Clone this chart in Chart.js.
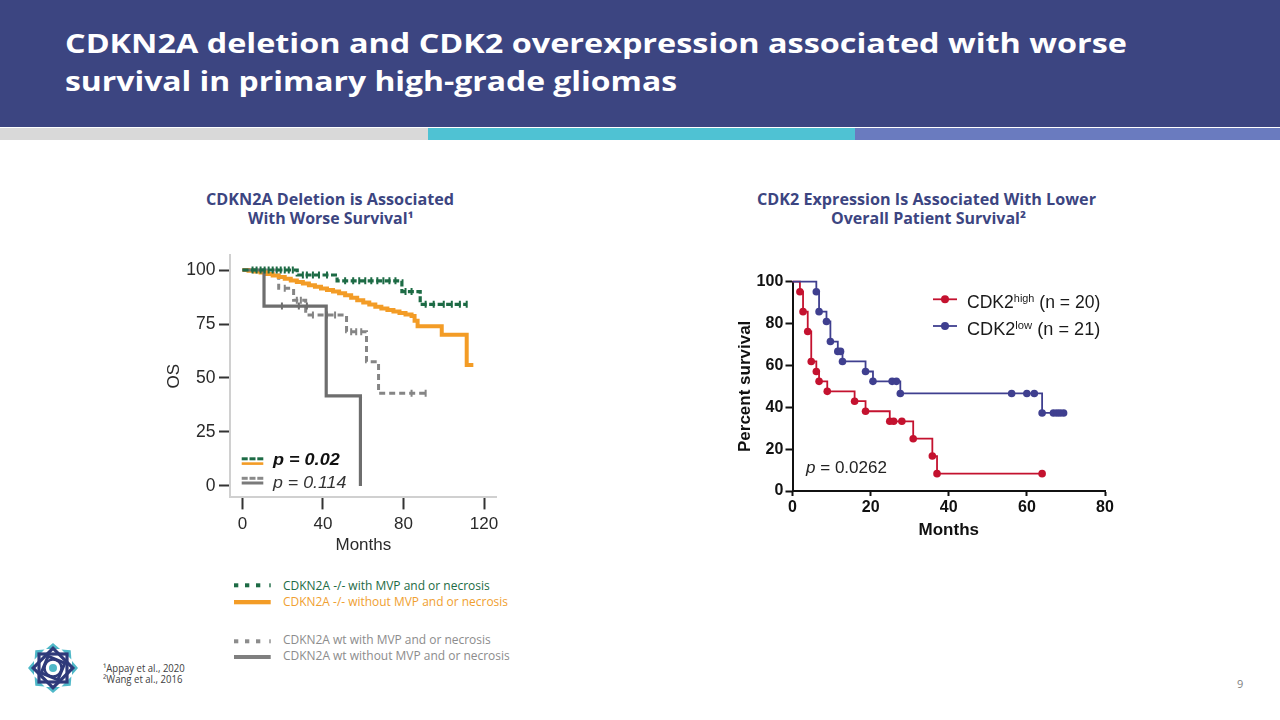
<!DOCTYPE html>
<html><head><meta charset="utf-8">
<script src="https://cdn.jsdelivr.net/npm/chart.js@4.4.1/dist/chart.umd.min.js"></script>
<style>
html,body{margin:0;padding:0;background:#fff;}
#slide{position:relative;width:1280px;height:720px;overflow:hidden;background:#fff;font-family:'Open Sans',sans-serif;}
.t{position:absolute;white-space:nowrap;line-height:1;transform-origin:0 0;}
.lib{font-family:'Liberation Sans',Arial,sans-serif;}
sup{font-size:62%;line-height:0;vertical-align:0.55em;}
canvas{position:absolute;}
svg{position:absolute;left:0;top:0;}
</style></head><body>
<div id="slide">
  <div style="position:absolute;left:0;top:0;width:1280px;height:127px;background:#3c4581"></div>
  <div style="position:absolute;left:0;top:128px;width:428px;height:12px;background:#d9d9d9"></div>
  <div style="position:absolute;left:428px;top:128px;width:427px;height:12px;background:#4fc2d3"></div>
  <div style="position:absolute;left:855px;top:128px;width:425px;height:12px;background:#6a7bbf"></div>

  <div class="t" data-x="65" data-b="53.5" data-fs="26" data-w="1062" style="color:#fff;font-weight:700">CDKN2A deletion and CDK2 overexpression associated with worse</div>
  <div class="t" data-x="65" data-b="91" data-fs="26" data-w="612" style="color:#fff;font-weight:700">survival in primary high-grade gliomas</div>

  <div class="t" data-x="205.6" data-b="205.5" data-fs="15.5" data-w="248" style="color:#3c4581;font-weight:700">CDKN2A Deletion is Associated</div>
  <div class="t" data-x="247.5" data-b="225" data-fs="15.5" data-w="165.6" style="color:#3c4581;font-weight:700">With Worse Survival¹</div>
  <div class="t" data-x="757" data-b="205.5" data-fs="15.5" data-w="339" style="color:#3c4581;font-weight:700">CDK2 Expression Is Associated With Lower</div>
  <div class="t" data-x="830.6" data-b="225" data-fs="15.5" data-w="195" style="color:#3c4581;font-weight:700">Overall Patient Survival²</div>

  <div class="t" data-x="283.3" data-b="590.7" data-fs="12.5" data-w="206.7" style="color:#1d6b45">CDKN2A -/- with MVP and or necrosis</div>
  <div class="t" data-x="283.3" data-b="606.7" data-fs="12.5" data-w="225" style="color:#f0a030">CDKN2A -/- without MVP and or necrosis</div>
  <div class="t" data-x="283.3" data-b="645" data-fs="12.5" data-w="207.7" style="color:#8c8c8c">CDKN2A wt with MVP and or necrosis</div>
  <div class="t" data-x="283.3" data-b="660.7" data-fs="12.5" data-w="226.7" style="color:#8c8c8c">CDKN2A wt without MVP and or necrosis</div>

  <div class="t" data-x="103.3" data-b="672.7" data-fs="10.5" data-w="81.7" style="color:#404040">¹Appay et al., 2020</div>
  <div class="t" data-x="103.3" data-b="683.3" data-fs="10.5" data-w="79.4" style="color:#404040">²Wang et al., 2016</div>
  <div class="t" data-x="1237" data-b="688" data-fs="11" style="color:#7f7f7f">9</div>

  <canvas id="leftChart" width="370" height="320" style="left:150px;top:240px;width:370px;height:320px"></canvas>
  <canvas id="rightChart" width="400" height="283" style="left:720px;top:262px;width:400px;height:283px"></canvas>

  <div class="t lib" data-f="lib" data-x="273.3" data-b="464.9" data-fs="16.5" data-w="66.7" style="color:#111;font-weight:700;font-style:italic">p = 0.02</div>
  <div class="t lib" data-f="lib" data-x="273.3" data-b="488.4" data-fs="16.5" data-w="73.4" style="color:#333;font-style:italic">p = 0.114</div>

  <div class="t lib" data-f="lib" data-x="966.7" data-b="308.3" data-fs="18" data-w="133.3" style="color:#1a1a1a">CDK2<sup>high</sup> (n = 20)</div>
  <div class="t lib" data-f="lib" data-x="966.7" data-b="335" data-fs="18" data-w="133.3" style="color:#1a1a1a">CDK2<sup>low</sup> (n = 21)</div>
  <div class="t lib" data-f="lib" data-x="806" data-b="473" data-fs="17" data-w="81" style="color:#222"><i>p</i> = 0.0262</div>

  <svg width="1280" height="720">
    <!-- bottom legend swatches -->
    <g fill="#1d6b45"><rect x="234" y="583.3" width="4.3" height="4"/><rect x="245" y="583.3" width="4.3" height="4"/><rect x="256" y="583.3" width="4.3" height="4"/><rect x="269.3" y="583.3" width="1.4" height="4"/></g>
    <rect x="234" y="600" width="36.7" height="4.3" fill="#f39c26"/>
    <g fill="#8c8c8c"><rect x="234" y="639.3" width="4.3" height="4"/><rect x="245" y="639.3" width="4.3" height="4"/><rect x="256" y="639.3" width="4.3" height="4"/><rect x="269.3" y="639.3" width="1.4" height="4"/></g>
    <rect x="234" y="655" width="36.7" height="4" fill="#7f7f7f"/>
    <!-- in-plot legend swatches (left chart) -->
    <g fill="#1d6b45"><rect x="241.7" y="457.3" width="6" height="3"/><rect x="249.5" y="457.3" width="6" height="3"/><rect x="257.3" y="457.3" width="6" height="3"/></g>
    <rect x="241.7" y="462.3" width="21.6" height="2.6" fill="#f39c26"/>
    <g fill="#8a8a8a"><rect x="241.7" y="476.8" width="6" height="3"/><rect x="249.5" y="476.8" width="6" height="3"/><rect x="257.3" y="476.8" width="6" height="3"/></g>
    <rect x="241.7" y="481.5" width="21.6" height="3" fill="#7a7a7a"/>
    <!-- right legend swatches -->
    <line x1="933" y1="299.3" x2="957" y2="299.3" stroke="#c4122f" stroke-width="1.8"/><circle cx="945" cy="299.3" r="4" fill="#c4122f"/>
    <line x1="933" y1="326" x2="957" y2="326" stroke="#3f3f8f" stroke-width="1.8"/><circle cx="945" cy="326" r="4" fill="#3f3f8f"/>
    <!-- logo -->
    <g transform="translate(53,668)">
      <g fill="#4fb8c8">
        <path d="M0,-25 L7,-19 L-7,-19 Z"/><path d="M0,-25 L7,-19 L-7,-19 Z" transform="rotate(45)"/>
        <path d="M0,-25 L7,-19 L-7,-19 Z" transform="rotate(90)"/><path d="M0,-25 L7,-19 L-7,-19 Z" transform="rotate(135)"/>
        <path d="M0,-25 L7,-19 L-7,-19 Z" transform="rotate(180)"/><path d="M0,-25 L7,-19 L-7,-19 Z" transform="rotate(225)"/>
        <path d="M0,-25 L7,-19 L-7,-19 Z" transform="rotate(270)"/><path d="M0,-25 L7,-19 L-7,-19 Z" transform="rotate(315)"/>
        <circle r="4"/>
      </g>
      <g fill="none" stroke="#2f3a7a" stroke-width="3.2">
        <rect x="-14" y="-14" width="28" height="28"/>
        <rect x="-14" y="-14" width="28" height="28" transform="rotate(45)"/>
        <rect x="-9" y="-9" width="18" height="18" transform="rotate(22.5)"/>
        <circle r="8.5" stroke-width="2.5"/>
      </g>
    </g>
  </svg>
</div>
<script>
// ---------- Left chart (Appay et al.) ----------
const leftMonthTicks = [0, 40, 80, 120];
const leftOsTicks = [0, 25, 50, 75, 100];

// CDKN2A -/- with MVP and/or necrosis (green dashed)
const nullMvpT = [0, 27.2, 47, 79.2, 88.3, 111.4];
const nullMvpS = [100, 97.7, 95.0, 90.0, 84.1, 84.1];
const nullMvpCensT = [5, 7, 9, 11, 13, 15, 17, 19, 21, 23, 25, 30, 32, 35, 38, 42, 51, 55, 58, 61, 64, 67, 70, 73, 76, 81, 84, 91, 95, 100, 104, 108, 111.4];
const nullMvpCensS = [100, 100, 100, 100, 100, 100, 100, 100, 100, 100, 100, 97.7, 97.7, 97.7, 97.7, 97.7, 95.0, 95.0, 95.0, 95.0, 95.0, 95.0, 95.0, 95.0, 95.0, 90.0, 90.0, 84.1, 84.1, 84.1, 84.1, 84.1, 84.1];

// CDKN2A -/- without MVP and/or necrosis (orange solid)
const nullNoT = [0, 3, 6, 9, 12, 15, 18, 21, 24, 27, 30, 33, 36, 39, 42, 45, 48, 51, 54, 57, 60, 63, 66, 69, 72, 75, 78, 81, 84, 85.5, 87, 99, 111.4, 114.7];
const nullNoS = [100, 99.7, 99.3, 98.8, 98.2, 97.5, 96.8, 96.0, 95.2, 94.4, 93.7, 92.9, 92.2, 91.4, 90.7, 90.0, 89.2, 88.3, 87.2, 86.0, 84.9, 84.0, 83.0, 82.2, 81.5, 80.8, 80.1, 79.4, 78.7, 76.5, 74.0, 70.0, 56.0, 56.0];

// CDKN2A wt with MVP and/or necrosis (gray dashed)
const wtMvpT = [0, 18, 25.4, 31.4, 51.7, 61.6, 67.6, 91];
const wtMvpS = [100, 91.5, 86.0, 79.2, 71.4, 57.5, 42.9, 42.9];
const wtMvpCensT = [21, 27, 29, 35, 42, 46, 54, 56.5, 59, 84, 91];
const wtMvpCensS = [91.5, 86.0, 86.0, 79.2, 79.2, 79.2, 71.4, 71.4, 71.4, 42.9, 42.9];

// CDKN2A wt without MVP and/or necrosis (gray solid)
const wtNoT = [0, 10.7, 41.6, 58.6];
const wtNoS = [100, 83.3, 41.7, 0];
const wtNoCensT = [19.6, 28, 32];
const wtNoCensS = [83.3, 83.3, 83.3];

// ---------- Right chart (Wang et al.) ----------
const rightMonthTicksStep = 20;
const rightSurvTicksStep = 20;
const highT = [0, 1.9, 2.7, 3.9, 4.8, 6.1, 6.8, 8.9, 15.9, 18.7, 24.9, 25.9, 28.0, 30.9, 35.8, 37.0, 63.9];
const highS = [100, 95.2, 85.7, 76.2, 61.9, 57.1, 52.4, 47.6, 42.9, 38.1, 33.3, 33.3, 33.3, 25.0, 16.7, 8.3, 8.3];
const lowT = [0, 6.1, 6.8, 8.7, 9.7, 11.6, 12.3, 12.8, 18.7, 20.6, 25.5, 26.6, 27.6, 56.1, 60.0, 61.9, 63.9, 66.8, 67.7, 68.5, 69.4];
const lowS = [100, 95.2, 85.7, 81.0, 71.4, 66.7, 66.7, 61.9, 57.1, 52.4, 52.4, 52.4, 46.6, 46.6, 46.6, 46.6, 37.3, 37.3, 37.3, 37.3, 37.3];

const toXY = (ts, ss) => ts.map((t, i) => ({x: t, y: ss[i]}));

// ---------- text placement ----------
const K = {open: 0.888, lib: 0.8465};
document.querySelectorAll('.t').forEach(el => {
  const fs = +el.dataset.fs, k = K[el.dataset.f || 'open'];
  el.style.fontSize = fs + 'px';
  el.style.left = el.dataset.x + 'px';
  el.style.top = (el.dataset.b - k * fs) + 'px';
});
function fit() {
  document.querySelectorAll('.t').forEach(el => {
    if (!el.dataset.w) return;
    el.style.transform = 'none';
    const w = el.getBoundingClientRect().width;
    if (w > 0) el.style.transform = 'scaleX(' + (el.dataset.w / w) + ')';
  });
}
fit();
if (document.fonts && document.fonts.ready) document.fonts.ready.then(fit);

Chart.defaults.font.family = "'Liberation Sans', Arial, sans-serif";

const censor = (t, s, color) => ({
  data: toXY(t, s), showLine: false, pointStyle: 'line', rotation: 90,
  pointRadius: 3.5, pointBorderWidth: 2, borderColor: color, pointBorderColor: color, backgroundColor: color
});

new Chart(document.getElementById('leftChart'), {
  type: 'line',
  data: {
    datasets: [
      censor(nullMvpCensT, nullMvpCensS, '#1d6b45'),
      {data: toXY(nullMvpT, nullMvpS), stepped: true, borderColor: '#1d6b45', borderWidth: 3.2, borderDash: [6, 2.5], pointRadius: 0},
      censor(wtNoCensT, wtNoCensS, '#6e6e6e'),
      {data: toXY(wtNoT, wtNoS), stepped: true, borderColor: '#6e6e6e', borderWidth: 3.2, pointRadius: 0},
      {data: toXY(nullNoT, nullNoS), stepped: true, borderColor: '#f39c26', borderWidth: 4, pointRadius: 0},
      censor(wtMvpCensT, wtMvpCensS, '#858585'),
      {data: toXY(wtMvpT, wtMvpS), stepped: true, borderColor: '#858585', borderWidth: 3, borderDash: [6, 4], pointRadius: 0}
    ]
  },
  options: {
    responsive: false, animation: false, devicePixelRatio: 1,
    layout: {padding: {left: 0, right: 23.3, top: 14.9, bottom: 0}},
    plugins: {legend: {display: false}, tooltip: {enabled: false}},
    scales: {
      x: {
        type: 'linear', min: -6.2, max: 126.3,
        afterBuildTicks: s => { s.ticks = leftMonthTicks.map(v => ({value: v})); },
        afterFit: s => { s.height = 62.6; },
        grid: {drawOnChartArea: false, drawTicks: true, tickLength: 12, tickWidth: 2, tickColor: '#333'},
        border: {color: '#d0d0d0', width: 2},
        ticks: {color: '#2a2a2a', font: {size: 17}, padding: 5.1, maxRotation: 0, autoSkip: false},
        title: {display: true, text: 'Months', color: '#2a2a2a', font: {size: 17}, padding: {top: 0, bottom: 4.3}}
      },
      y: {
        type: 'linear', min: -5.3, max: 107,
        afterBuildTicks: s => { s.ticks = leftOsTicks.map(v => ({value: v})); },
        afterFit: s => { s.width = 80; },
        grid: {drawOnChartArea: false, drawTicks: true, tickLength: 11, tickWidth: 2, tickColor: '#333'},
        border: {color: '#d0d0d0', width: 2},
        ticks: {color: '#2a2a2a', font: {size: 17.5}, padding: 3.5, autoSkip: false},
        title: {display: true, text: 'OS', color: '#2a2a2a', font: {size: 17}, padding: {top: 13.8, bottom: 0}}
      }
    }
  }
});

const kmPoints = (ts) => ts.map((t, i) => i === 0 ? 0 : 3.8);

new Chart(document.getElementById('rightChart'), {
  type: 'line',
  data: {
    datasets: [
      {data: toXY(lowT, lowS), stepped: true, borderColor: '#3f3f8f', backgroundColor: '#3f3f8f', borderWidth: 1.8,
       pointRadius: kmPoints(lowT), pointBackgroundColor: '#3f3f8f', pointBorderWidth: 0, clip: false},
      {data: toXY(highT, highS), stepped: true, borderColor: '#c4122f', backgroundColor: '#c4122f', borderWidth: 1.8,
       pointRadius: kmPoints(highT), pointBackgroundColor: '#c4122f', pointBorderWidth: 0, clip: false}
    ]
  },
  options: {
    responsive: false, animation: false, devicePixelRatio: 1,
    layout: {padding: {left: 0, right: 15, top: 19.7, bottom: 0}},
    plugins: {legend: {display: false}, tooltip: {enabled: false}},
    scales: {
      x: {
        type: 'linear', min: 0, max: 80,
        afterFit: s => { s.height = 54; },
        grid: {drawOnChartArea: false, drawTicks: true, tickLength: 5, tickWidth: 2, tickColor: '#111'},
        border: {color: '#111', width: 2},
        ticks: {stepSize: rightMonthTicksStep, color: '#111', font: {size: 16, weight: 'bold'}, padding: 1.9, maxRotation: 0},
        title: {display: true, text: 'Months', color: '#111', font: {size: 17, weight: 'bold'}, padding: {top: 0, bottom: 4.8}}
      },
      y: {
        type: 'linear', min: 0, max: 100,
        afterFit: s => { s.width = 72.5; },
        grid: {drawOnChartArea: false, drawTicks: true, tickLength: 7, tickWidth: 2, tickColor: '#111'},
        border: {color: '#111', width: 2},
        ticks: {stepSize: rightSurvTicksStep, color: '#111', font: {size: 16, weight: 'bold'}, padding: 2.2},
        title: {display: true, text: 'Percent survival', color: '#111', font: {size: 17, weight: 'bold'}, padding: {top: 14.8, bottom: 0}}
      }
    }
  }
});
</script>
</body></html>
